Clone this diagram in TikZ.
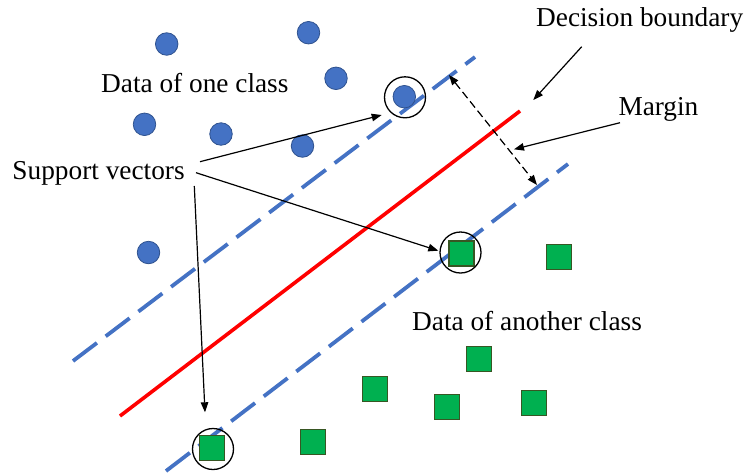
\documentclass[tikz,border=0pt]{standalone}
\usepackage{fontspec}
\setmainfont{Liberation Serif}
\usetikzlibrary{arrows.meta}
\definecolor{dotblue}{HTML}{4472C4}
\definecolor{dotedge}{HTML}{2F528F}
\definecolor{sqgreen}{HTML}{00B050}
\definecolor{sqedge}{HTML}{375623}
\definecolor{bndred}{HTML}{FF0000}

\begin{document}
\begin{tikzpicture}[x=1pt,y=-1pt,
  dot/.style={circle,fill=dotblue,draw=dotedge,line width=0.8pt,minimum size=22.5pt,inner sep=0},
  sq/.style={rectangle,fill=sqgreen,draw=sqedge,line width=1.3pt,minimum size=25pt,inner sep=0},
  ring/.style={circle,draw=black,line width=1.3pt,minimum size=41pt,inner sep=0},
  txt/.style={font=\fontsize{27.3}{32}\selectfont,inner sep=0,anchor=base west},
  pointer/.style={line width=1.2pt,-{Triangle[length=10pt,width=7.5pt]}},
  gauge/.style={line width=1.2pt,dash pattern=on 8pt off 4pt,{Triangle[length=10pt,width=7.5pt]}-{Triangle[length=10pt,width=7.5pt]}},
  hyper/.style={dotblue,line width=3.8pt,dash pattern=on 30pt off 11pt},
  boundary/.style={bndred,line width=3.6pt}]

\useasboundingbox (0,0) rectangle (747,475);

% separating lines
\coordinate (upA) at (73,361);
\coordinate (upB) at (475,57);
\coordinate (redA) at (120,416);
\coordinate (redB) at (520,111);
\coordinate (loA) at (166,471);
\coordinate (loB) at (568,164);
\draw[hyper] (upA) -- (upB);
\draw[boundary] (redA) -- (redB);
\draw[hyper] (loA) -- (loB);

% first class
\node[dot] (c1) at (166.7,44) {};
\node[dot] (c2) at (308.5,32.7) {};
\node[dot] (c3) at (336,78.3) {};
\node[dot] (c4) at (144.5,124.3) {};
\node[dot] (c5) at (221,134) {};
\node[dot] (c6) at (302.5,146) {};
\node[dot] (c7) at (148.5,252.5) {};
\node[dot] (c8) at (404.3,96.7) {};

% second class
\node[sq] (s1) at (461.5,253.5) {};
\node[sq] (s2) at (559,257.3) {};
\node[sq] (s3) at (479.3,359) {};
\node[sq] (s4) at (375.3,388.7) {};
\node[sq] (s5) at (447.3,407) {};
\node[sq] (s6) at (533.7,403.3) {};
\node[sq] (s7) at (312.7,441.7) {};
\node[sq] (s8) at (211.7,448.3) {};

% support vector rings
\node[ring] (r1) at (405,97.3) {};
\node[ring] (r2) at (460.5,252.5) {};
\node[ring] (r3) at (213,449) {};

% labels
\node[txt] (lone) at (101,92.7) {Data of one class};
\node[txt] (lsv) at (12.3,179.3) {Support vectors};
\node[txt] (ldb) at (536,26.7) {Decision boundary};
\node[txt] (lmg) at (618.3,115.5) {Margin};
\node[txt] (lother) at (412,330) {Data of another class};

% arrow ends
\coordinate (sv1) at (200,161.7);
\coordinate (sv2) at (196,172.7);
\coordinate (sv3) at (194.3,186);
\coordinate (t1) at (381.7,115);
\coordinate (t2) at (438.3,250.7);
\coordinate (t3) at (205,412.3);
\coordinate (db) at (581.7,46.7);
\coordinate (dbt) at (533.3,100);
\coordinate (mg) at (620,122.7);
\coordinate (mgt) at (514,149.3);
\coordinate (gA) at (449,75);
\coordinate (gB) at (537,185);

\draw[pointer] (sv1) -- (t1);
\draw[pointer] (sv2) -- (t2);
\draw[pointer] (sv3) -- (t3);
\draw[pointer] (db) -- (dbt);
\draw[pointer] (mg) -- (mgt);
\draw[gauge] (gA) -- (gB);
\end{tikzpicture}
\end{document}
